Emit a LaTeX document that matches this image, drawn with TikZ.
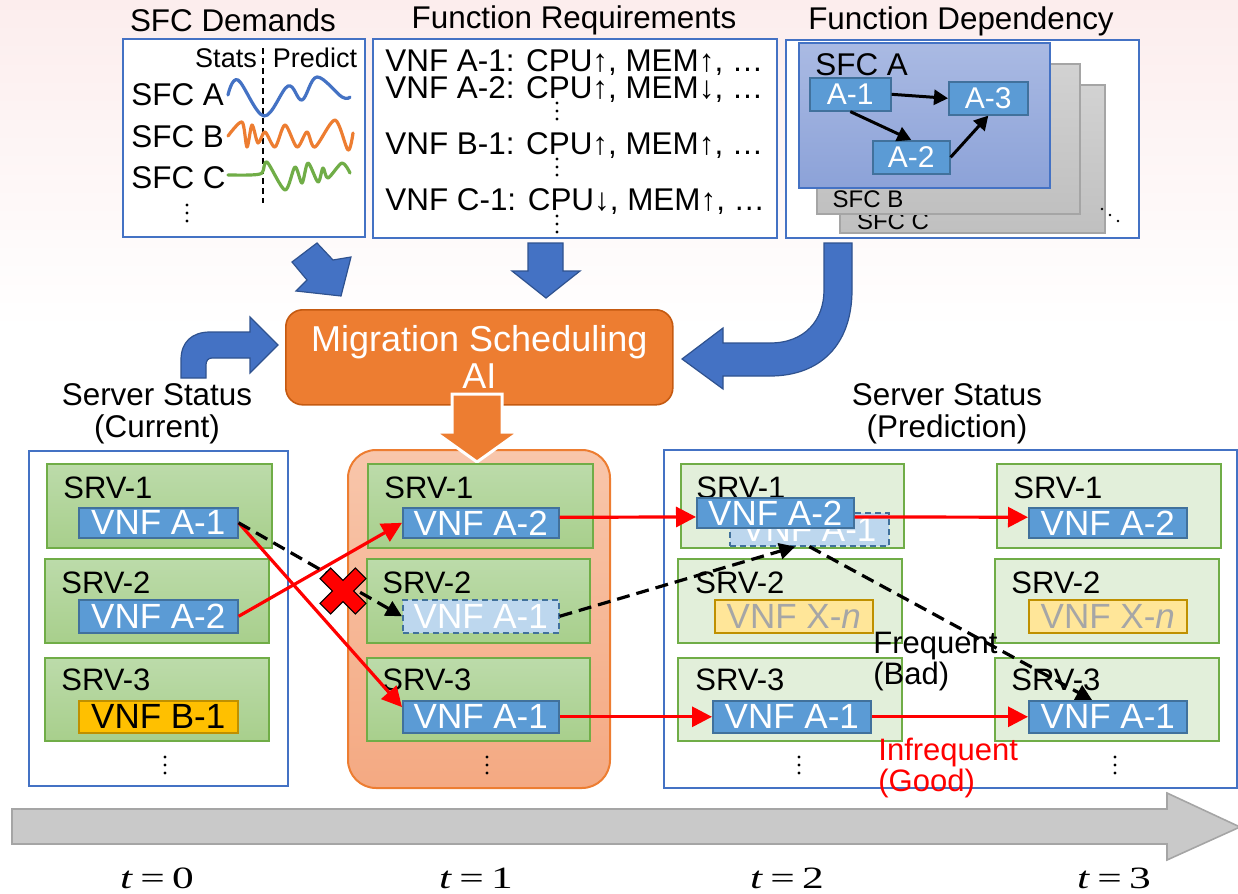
\documentclass[tikz,border=0pt]{standalone}
\usepackage{fontspec}
\setmainfont{Liberation Sans}
\newfontfamily\timesfont{Liberation Serif}
\usepackage{graphicx}
\usetikzlibrary{arrows.meta}

\definecolor{ppBlue}{HTML}{4472C4}
\definecolor{ppBlueDark}{HTML}{2F528F}
\definecolor{ppOrange}{HTML}{ED7D31}
\definecolor{ppOrangeDark}{HTML}{C55A11}
\definecolor{vnfBlue}{HTML}{5B9BD5}
\definecolor{vnfEdge}{HTML}{41719C}
\definecolor{ghostBlue}{HTML}{BDD7EE}
\definecolor{srvGreenTop}{HTML}{BCDBAA}
\definecolor{srvGreenBot}{HTML}{A8CF8C}
\definecolor{srvEdge}{HTML}{70AD47}
\definecolor{srvLight}{HTML}{E2EFDA}
\definecolor{goldFill}{HTML}{FFC000}
\definecolor{goldEdge}{HTML}{BF9000}
\definecolor{paleGold}{HTML}{FFE699}
\definecolor{greyText}{HTML}{A6A6A6}
\definecolor{panelTop}{HTML}{AABAE3}
\definecolor{panelBot}{HTML}{8CA2D8}
\definecolor{grayPanelTop}{HTML}{D2D2D2}
\definecolor{grayPanelBot}{HTML}{C0C0C0}
\definecolor{grayEdge}{HTML}{A5A5A5}
\definecolor{peachTop}{HTML}{F8C6AB}
\definecolor{peachBot}{HTML}{F4A982}
\definecolor{bgPink}{HTML}{FCEDED}
\definecolor{timeGray}{HTML}{C9C9C9}

\tikzset{
  wh/.style 2 args={minimum width=#1*0.5pt, minimum height=#2*0.5pt},
  frame/.style={draw=ppBlue, line width=0.8pt, fill=white, inner sep=0pt, anchor=north west},
  vnf/.style={draw=vnfEdge, fill=vnfBlue, line width=0.8pt, text=white, inner sep=0pt,
    anchor=north west, font=\fontsize{17.5}{20}\selectfont},
  ghost/.style={vnf, fill=ghostBlue, dash pattern=on 3pt off 2pt},
  goldvnf/.style={vnf, fill=goldFill, draw=goldEdge, text=black},
  palevnf/.style={vnf, fill=paleGold, draw=goldEdge, text=greyText},
  fnbox/.style={vnf, font=\fontsize{15}{17}\selectfont},
  srvbox/.style={draw=srvEdge, top color=srvGreenTop, bottom color=srvGreenBot,
    line width=0.8pt, inner sep=0pt, anchor=north west},
  srvpale/.style={draw=srvEdge, fill=srvLight, line width=0.8pt, inner sep=0pt, anchor=north west},
  srvlbl/.style={anchor=west, inner sep=0pt, font=\fontsize{15.5}{18}\selectfont},
  lbl/.style={anchor=west, inner sep=0pt},
  grayPanel/.style={draw=grayEdge, top color=grayPanelTop, bottom color=grayPanelBot,
    line width=0.8pt, inner sep=0pt, anchor=north west},
  blockarrow/.style={fill=ppBlue, draw=ppBlueDark, line width=0.6pt},
  redarrow/.style={draw=red, line width=1.6pt, -{Triangle[length=10pt,width=10pt]}},
  dasharrow/.style={draw=black, line width=1.6pt, dash pattern=on 6.5pt off 3.5pt,
    -{Triangle[length=8pt,width=8pt]}},
  deparrow/.style={draw=black, line width=1.5pt, -{Triangle[length=7pt,width=7.5pt]}},
  wave/.style={line width=1.6pt, line cap=round, line join=round},
  title/.style={align=center, font=\fontsize{15.7}{16}\selectfont},
  timelbl/.style={inner sep=0pt, font=\timesfont\fontsize{15.5}{17}\selectfont},
}

% three stacked dots
\newcommand\dotcol[2]{\foreach \k in {-1,0,1} \fill (#1,#2+\k*8) circle (1.7);}

\begin{document}
\begin{tikzpicture}[x=0.5pt, y=-0.5pt, font=\fontsize{15.7}{18}\selectfont]
\useasboundingbox (0,0) rectangle (1238,894);
\shade[top color=bgPink, bottom color=white] (0,0) rectangle (1238,330);

% ---------------- top row: inputs ----------------
\node (tDem) at (233,20) {SFC Demands};
\node (tReq) at (574,20) {Function Requirements};
\node (tDep) at (961,21) {Function Dependency};

\node[frame, wh={242}{198}] (bDem) at (122,38) {};
\node[frame, wh={404}{199}] (bReq) at (372,38) {};
\node[frame, wh={353}{198}] (bDep) at (785,39) {};

% SFC demand traces
\node[font=\fontsize{13.5}{15}\selectfont] (stats) at (226,58) {Stats};
\node[font=\fontsize{13.5}{15}\selectfont] (pred) at (315,58) {Predict};
\draw[line width=0.9pt, dash pattern=on 3pt off 2pt] (263,48) -- (263,203);
\node[lbl] (sfcA) at (131,95) {SFC A};
\node[lbl] (sfcB) at (131,137) {SFC B};
\node[lbl] (sfcC) at (131,178) {SFC C};
\dotcol{187}{213}
\draw[wave, ppBlue] plot[smooth, tension=0.6] coordinates
  {(228,95) (238,80) (264,116) (288,86) (302,100) (317,77) (342,97) (350,97)};
\draw[wave, ppOrange] plot[smooth, tension=0.5] coordinates
  {(228,136) (242,122) (247,147) (252,125) (258,143) (265,132) (275,147) (285,125)
   (297,147) (307,132) (315,147) (335,120) (348,150) (353,133)};
\draw[wave, srvEdge] plot[smooth, tension=0.5] coordinates
  {(228,175) (250,175) (262,173) (267,162) (285,190) (295,167) (302,183) (308,163)
   (318,182) (323,168) (328,178) (342,163) (350,173)};

% function requirements
\node[lbl] (rq1) at (385,63) {VNF A-1: CPU↑, MEM↑, …};
\node[lbl] (rq2) at (385,90) {VNF A-2: CPU↑, MEM↓, …};
\node[lbl] (rq3) at (385,146) {VNF B-1: CPU↑, MEM↑, …};
\node[lbl] (rq4) at (385,202) {VNF C-1: CPU↓, MEM↑, …};
\dotcol{557}{111}
\dotcol{557}{167}
\dotcol{557}{224}

% function dependency
\node[grayPanel, wh={265}{148}] (pC) at (839,84) {};
\node[font=\fontsize{12}{14}\selectfont] (pCl) at (893,221) {SFC C};
\node[grayPanel, wh={263}{150}] (pB) at (816,63) {};
\node[font=\fontsize{12}{14}\selectfont] (pBl) at (868,199) {SFC B};
\node[draw=ppBlue, top color=panelTop, bottom color=panelBot, line width=0.8pt,
      inner sep=0pt, anchor=north west, wh={251}{145}] (pA) at (798,42) {};
\node[lbl] (pAl) at (815,65) {SFC A};
\fill (1102,209) circle (1.3) (1110,215) circle (1.3) (1118,221) circle (1.3);
\node[fnbox, wh={81}{33}] (fA1) at (809,77) {A-1};
\node[fnbox, wh={79}{33}] (fA3) at (948,81) {A-3};
\node[fnbox, wh={77}{33}] (fA2) at (872,140) {A-2};
\draw[deparrow] (fA1.east) -- (fA3.west);
\draw[deparrow] (fA1.south) -- (fA2.north);
\draw[deparrow] (fA2.east) -- (fA3.south);

% ---------------- scheduler and feeding arrows ----------------
\node[draw=ppOrangeDark, fill=ppOrange, rounded corners=8.5pt, line width=0.8pt,
      anchor=north west, wh={387}{95}, text=white, align=center,
      font=\fontsize{18}{18.5}\selectfont] (ai) at (285,309) {Migration Scheduling\\AI};

\filldraw[blockarrow] (292,262) -- (317,243) -- (333,260) -- (351,257) -- (341,296)
  -- (296,291) -- (307,280) -- cycle;
\filldraw[blockarrow] (528,243) -- (563,243) -- (563,271) -- (580,271) -- (546,298)
  -- (512,271) -- (528,271) -- cycle;
\filldraw[blockarrow] (181,378) -- (181,360) .. controls (181,342) and (192,332) .. (210,332)
  -- (250,332) -- (250,317) -- (278,345) -- (250,373) -- (250,358) -- (212,358)
  .. controls (208,358) and (206,361) .. (206,365) -- (206,378) -- cycle;
\filldraw[blockarrow] (824,243) -- (852,243) -- (852,290) .. controls (852,345) and (820,376) .. (770,376)
  -- (723,376) -- (723,389) -- (682,359) -- (723,328) -- (723,343) -- (770,343)
  .. controls (805,343) and (824,320) .. (824,290) -- cycle;

% ---------------- server states ----------------
\node[title] (stCur) at (157,414) {Server Status\\(Current)};
\node[title] (stPred) at (947,414) {Server Status\\(Prediction)};

\node[frame, wh={259}{335}] (bCur) at (28,450) {};
\node[draw=ppOrange, top color=peachTop, bottom color=peachBot, rounded corners=14pt,
      line width=1pt, inner sep=0pt, anchor=north west, wh={262}{338}] (bMid) at (347,449) {};
\node[frame, wh={573}{338}] (bPred) at (663,449) {};

\filldraw[fill=ppOrange, draw=white, line width=1.5pt] (452,394) -- (502,394) -- (502,432)
  -- (519,432) -- (477,462) -- (435,432) -- (452,432) -- cycle;

% t = 0
\node[srvbox, wh={225}{84}] (s01) at (46,463) {};
\node[srvbox, wh={224}{84}] (s02) at (44,558) {};
\node[srvbox, wh={224}{83}] (s03) at (44,657) {};
\node[srvlbl] (l01) at (63,488) {SRV-1};
\node[srvlbl] (l02) at (61,583) {SRV-2};
\node[srvlbl] (l03) at (61,680) {SRV-3};
\node[vnf, wh={159}{30}] (v0a) at (78,507) {VNF A-1};
\node[vnf, wh={159}{33}] (v0b) at (78,599) {VNF A-2};
\node[goldvnf, wh={159}{32}] (v0c) at (78,700) {VNF B-1};
\dotcol{165}{765}

% t = 1
\node[srvbox, wh={225}{84}] (s11) at (367,463) {};
\node[srvbox, wh={223}{84}] (s12) at (366,558) {};
\node[srvbox, wh={223}{83}] (s13) at (366,657) {};
\node[srvlbl] (l11) at (384,488) {SRV-1};
\node[srvlbl] (l12) at (382,583) {SRV-2};
\node[srvlbl] (l13) at (382,680) {SRV-3};
\node[vnf, wh={156}{30}] (v1a) at (402,507) {VNF A-2};
\node[ghost, wh={156}{33}] (v1b) at (402,599) {VNF A-1};
\node[vnf, wh={156}{32}] (v1c) at (402,700) {VNF A-1};
\dotcol{487}{765}

% t = 2
\node[srvpale, wh={223}{84}] (s21) at (680,463) {};
\node[srvpale, wh={224}{84}] (s22) at (677,558) {};
\node[srvpale, wh={224}{83}] (s23) at (677,657) {};
\node[srvlbl] (l21) at (696,488) {SRV-1};
\node[srvlbl] (l22) at (695,583) {SRV-2};
\node[srvlbl] (l23) at (695,680) {SRV-3};
\node[ghost, wh={159}{33}] (v2g) at (729,512) {VNF A-1};
\node[vnf, wh={157}{30}] (v2a) at (696,497) {VNF A-2};
\node[palevnf, wh={158}{33}] (v2x) at (714,599) {VNF X-\textit{n}};
\node[vnf, wh={158}{32}] (v2c) at (712,700) {VNF A-1};
\dotcol{799}{765}

% t = 3
\node[srvpale, wh={224}{84}] (s31) at (996,463) {};
\node[srvpale, wh={224}{84}] (s32) at (994,558) {};
\node[srvpale, wh={224}{83}] (s33) at (994,657) {};
\node[srvlbl] (l31) at (1013,488) {SRV-1};
\node[srvlbl] (l32) at (1011,583) {SRV-2};
\node[srvlbl] (l33) at (1011,680) {SRV-3};
\node[vnf, wh={158}{30}] (v3a) at (1028,507) {VNF A-2};
\node[palevnf, wh={158}{33}] (v3x) at (1028,599) {VNF X-\textit{n}};
\node[vnf, wh={158}{32}] (v3c) at (1028,700) {VNF A-1};
\dotcol{1115}{765}

\node[lbl, align=left, font=\fontsize{15.5}{15.5}\selectfont] (freq) at (873,662) {Frequent\\(Bad)};
\node[lbl, align=left, text=red, font=\fontsize{15.5}{15.5}\selectfont] (infreq) at (878,768) {Infrequent\\(Good)};

% migrations
\draw[redarrow] (v0a.east) -- (v1c.173);
\draw[redarrow] (v0b.east) -- (v1a.west);
\draw[redarrow] (v1a.4) -- (v2a.183);
\draw[redarrow] (v1c.east) -- (v2c.west);
\draw[redarrow] (v2a.-3) -- (v3a.176);
\draw[redarrow] (v2c.east) -- (v3c.west);
\draw[dasharrow] (v0a.east) -- (v1b.west);
\draw[dasharrow] (v1b.east) -- (v2g.231);
\draw[dasharrow] (v2g.south) -- (v3c.133);

% rejected move
\begin{scope}[shift={(343,591)}, rotate=45]
  \filldraw[fill=red, draw=black, line width=0.6pt]
    (-7.5,-25) -- (7.5,-25) -- (7.5,-7.5) -- (25,-7.5) -- (25,7.5) -- (7.5,7.5)
    -- (7.5,25) -- (-7.5,25) -- (-7.5,7.5) -- (-25,7.5) -- (-25,-7.5) -- (-7.5,-7.5) -- cycle;
\end{scope}

% ---------------- time axis ----------------
\filldraw[fill=timeGray, draw=grayEdge, line width=0.8pt] (12,809) -- (1167,809) -- (1167,793)
  -- (1240,827) -- (1167,860) -- (1167,844) -- (12,844) -- cycle;
\node[timelbl] (t0) at (157,878) {\scalebox{1.4}[1]{\textit{t}\,=\,0}};
\node[timelbl] (t1) at (476,878) {\scalebox{1.4}[1]{\textit{t}\,=\,1}};
\node[timelbl] (t2) at (787,878) {\scalebox{1.4}[1]{\textit{t}\,=\,2}};
\node[timelbl] (t3) at (1114,878) {\scalebox{1.4}[1]{\textit{t}\,=\,3}};
\end{tikzpicture}
\end{document}
